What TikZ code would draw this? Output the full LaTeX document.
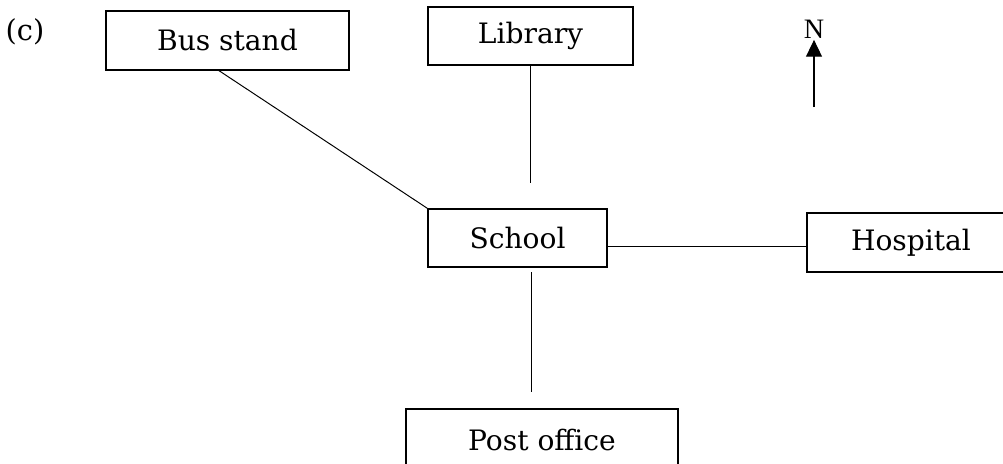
\documentclass[tikz,border=0pt]{standalone}
\usepackage{fontspec}
\setmainfont{DejaVu Serif}
\newfontfamily\northFont{Liberation Serif}
\usetikzlibrary{arrows.meta}
\newcommand{\placeBox}[5]{%
  \node[boxStyle,minimum width=#3,minimum height=#4] (#1) at (#2) {#5};
}

\begin{document}
\begin{tikzpicture}[%
  x=0.025cm,y=-0.025cm,%
  boxStyle/.style={draw,line width=1.1pt,inner sep=0pt,font=\fontsize{20}{24}\selectfont},%
  lineStyle/.style={line width=0.7pt},%
  northStyle/.style={line width=0.8pt,-{Triangle[width=0.4cm,length=0.42cm]}}%
]
%
\clip (0,0) rectangle (1003,463);
%
% Free ends of the lines.
\coordinate (busFoot) at (218,70);
\coordinate (libFoot) at (530.5,183);
\coordinate (schoolGap) at (531,272);
\coordinate (postGap) at (531,392);
\coordinate (northTail) at (814,107);
%
% The label.
\node[font=\fontsize{20.5}{24}\selectfont] (partLabel) at (25,32) {(c)};
%
% The places.
\placeBox{busStand}{227.5,40.5}{6.075cm}{1.475cm}{Bus stand}
\placeBox{library}{530.5,36}{5.125cm}{1.45cm}{Library}
\placeBox{school}{517.5,238}{4.475cm}{1.45cm}{School}
\placeBox{hospital}{911,242.5}{5.2cm}{1.475cm}{Hospital}
\placeBox{postOffice}{542,440}{6.8cm}{1.55cm}{Post office}
%
% The roads.
\draw[lineStyle] (busFoot) -- (school.north west);
\draw[lineStyle] (library.south) -- (libFoot);
\draw[lineStyle] ([yshift=-0.09cm]hospital.west) -- ([yshift=-0.09cm]hospital.west -| school.east);
\draw[lineStyle] (schoolGap) -- (postGap);
%
% North.
\node[font=\northFont\fontsize{20}{24}\selectfont,inner sep=1pt] (north) at (814,29) {N};
\draw[northStyle] (northTail) -- (north.south);
\end{tikzpicture}
\end{document}
